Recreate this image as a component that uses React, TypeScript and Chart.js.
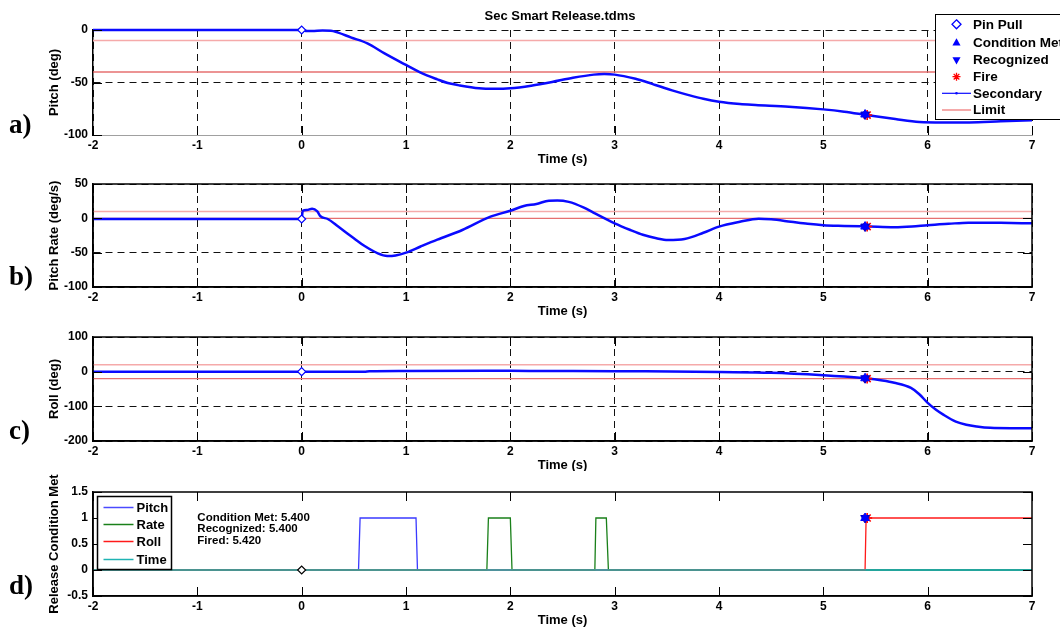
import React, { useEffect, useRef } from "react";
import { Chart, registerables } from "chart.js";
Chart.register(...registerables);

// ---------------- data ----------------
const timeMin = -2;
const timeMax = 7;

const pitchTime = [-2, -0.01, 0, 0.05, 0.1, 0.2, 0.28, 0.35, 0.47, 0.63, 0.79, 1.0, 1.14, 1.3, 1.4, 1.5, 1.7, 1.85, 2.0, 2.2, 2.4, 2.6, 2.8, 2.9, 3.0, 3.2, 3.32, 3.39, 3.55, 3.71, 3.85, 4.0, 4.2, 4.35, 4.67, 5.0, 5.2, 5.42, 5.69, 5.92, 6.14, 6.4, 6.7, 7.0];
const pitchDeg = [0, 0, 0, -1, -1, -0.5, -0.6, -2.5, -7, -12.7, -22, -33.3, -40.6, -47, -50.5, -52.5, -55.5, -56, -55.5, -53, -49.5, -45.5, -42.5, -42, -42.5, -46.5, -50, -52.4, -57.5, -62, -65.5, -68.3, -70.5, -71.4, -73, -75.6, -77.8, -81, -84.8, -87.6, -88, -88, -87, -86];

const rateTime = [-2, -0.01, 0.0, 0.01, 0.05, 0.1, 0.15, 0.18, 0.25, 0.35, 0.5, 0.6, 0.73, 0.82, 0.9, 1.0, 1.14, 1.3, 1.54, 1.81, 2.0, 2.13, 2.25, 2.37, 2.45, 2.56, 2.7, 2.8, 3.0, 3.15, 3.27, 3.4, 3.51, 3.67, 3.85, 4.0, 4.2, 4.38, 4.5, 4.69, 4.85, 5.0, 5.2, 5.44, 5.68, 5.85, 6.0, 6.2, 6.39, 6.7, 7.0];
const rateDegS = [-1, -1, -1, 11, 12, 14, 10, 3, -1, -12, -29, -40, -51, -54.8, -54, -50, -41, -31, -17, 2.4, 11, 18, 21, 25.7, 26, 24, 16, 8, -7.3, -17, -24, -29, -31.6, -30, -21, -12, -5, -0.5, -1.5, -5, -8, -10, -11, -12, -13, -12, -10, -8, -6.3, -6.5, -7.3];

const rollTime = [-2, 0, 0.6, 0.65, 1.0, 2.0, 2.3, 3.0, 3.3, 4.0, 4.5, 5.0, 5.2, 5.42, 5.55, 5.68, 5.84, 5.92, 6.0, 6.08, 6.15, 6.27, 6.37, 6.47, 6.6, 6.8, 7.0];
const rollDeg = [0, 0, 0, 1, 2, 2.5, 2, 1.5, 1, -1, -3, -10, -14, -20, -25, -32, -47, -65, -90, -110, -124, -144, -153, -158, -162, -163, -163];

const condPitchTime = [-2, 0.545, 0.56, 1.096, 1.11, 7];
const condPitchVal = [0, 0, 1, 1, 0, 0];
const condRateTime = [-2, 1.775, 1.79, 2.0, 2.016, 2.81, 2.82, 2.92, 2.94, 7];
const condRateVal = [0, 0, 1, 1, 0, 0, 1, 1, 0, 0];
const condRollTime = [-2, 5.4, 5.41, 7];
const condRollVal = [0, 0, 1, 1];
const condTimeTime = [-2, 7];
const condTimeVal = [0, 0];

const pitchLimits = [-10, -40];
const rateLimits = [10, 0];
const rollLimits = [20, -20];

// event times: pin pull, condition met, recognized, fire
const eventTimes = [0, 5.4, 5.4, 5.42];
const pitchEventVals = [0, -80.5, -80.5, -81];
const rateEventVals = [-1, -12, -12, -12];
const rollEventVals = [0, -19, -19, -20];
const condEventVals = [0, 1, 1, 1];

const annotationLines = ["Condition Met: 5.400", "Recognized: 5.400", "Fired: 5.420"];
const mainTitle = "Sec Smart Release.tdms";

// ---------------- styling ----------------
const SANS = '"Liberation Sans", Arial, Helvetica, sans-serif';
const SERIF = '"Liberation Serif", "Times New Roman", serif';
const BLUE = "#0a0aff";
const PINK = "rgb(245,170,170)";
const LIMRED = "rgb(230,112,112)";
const AREA_LEFT = 93;
const AREA_RIGHT = 1032;
const W = 1060;

const pts = (t: number[], v: number[]) => t.map((x, i) => ({ x, y: v[i] }));

type Spec = {
  top: number;
  height: number;
  areaTop: number;
  areaBottom: number;
  yMin: number;
  yMax: number;
  yStep: number;
  yTitle: string;
  letter: string;
  grid: boolean;
  fullBox: boolean;
  datasets: any[];
  extra?: (ctx: CanvasRenderingContext2D, chart: any, spec: Spec) => void;
};

function markerSets(vals: number[], pinColor: string) {
  return [
    { data: [{ x: eventTimes[0], y: vals[0] }], pointStyle: "rectRot", pointRadius: 4, borderColor: pinColor, backgroundColor: "#fff", borderWidth: 1.2, order: 0, clip: false },
    { data: [{ x: eventTimes[1], y: vals[1] }], pointStyle: "triangle", pointRadius: 5, borderColor: "#0000ff", backgroundColor: "#0000ff", borderWidth: 1, order: 0, clip: false },
    { data: [{ x: eventTimes[2], y: vals[2] }], pointStyle: "triangle", rotation: 180, pointRadius: 5, borderColor: "#0000cc", backgroundColor: "#0000cc", borderWidth: 1, order: 0, clip: false },
    { data: [{ x: eventTimes[3], y: vals[3] }], pointStyle: "star", pointRadius: 5, borderColor: "#ff0000", backgroundColor: "#ff0000", borderWidth: 1.6, order: 0, clip: false },
  ];
}

function lineSet(data: any[], color: string, width: number, order: number, smooth = false) {
  const ds: any = { data, showLine: true, pointRadius: 0, borderColor: color, backgroundColor: color, borderWidth: width, order, clip: false };
  if (smooth) ds.cubicInterpolationMode = "monotone";
  return ds;
}

function limitSets(lims: number[]) {
  return [
    lineSet([{ x: timeMin, y: lims[0] }, { x: timeMax, y: lims[0] }], PINK, 1.5, 3),
    lineSet([{ x: timeMin, y: lims[1] }, { x: timeMax, y: lims[1] }], LIMRED, 1.3, 3),
  ];
}

function drawSym(ctx: CanvasRenderingContext2D, kind: string, x: number, y: number, r: number, color: string) {
  ctx.save();
  ctx.strokeStyle = color;
  ctx.fillStyle = color;
  ctx.lineWidth = 1.3;
  ctx.beginPath();
  if (kind === "diamond") {
    ctx.moveTo(x, y - r); ctx.lineTo(x + r, y); ctx.lineTo(x, y + r); ctx.lineTo(x - r, y); ctx.closePath();
    ctx.fillStyle = "#fff"; ctx.fill(); ctx.stroke();
  } else if (kind === "up") {
    ctx.moveTo(x, y - r); ctx.lineTo(x + r * 0.9, y + r * 0.6); ctx.lineTo(x - r * 0.9, y + r * 0.6); ctx.closePath(); ctx.fill();
  } else if (kind === "down") {
    ctx.moveTo(x, y + r); ctx.lineTo(x + r * 0.9, y - r * 0.6); ctx.lineTo(x - r * 0.9, y - r * 0.6); ctx.closePath(); ctx.fill();
  } else if (kind === "star") {
    for (let k = 0; k < 4; k++) {
      const a = (k * Math.PI) / 4;
      ctx.moveTo(x - r * Math.cos(a), y - r * Math.sin(a));
      ctx.lineTo(x + r * Math.cos(a), y + r * Math.sin(a));
    }
    ctx.stroke();
  }
  ctx.restore();
}

const decor = (spec: Spec) => ({
  id: "decor",
  afterDraw(chart: any) {
    const ctx: CanvasRenderingContext2D = chart.ctx;
    const a = chart.chartArea;
    const xs = chart.scales.x;
    const ys = chart.scales.y;
    ctx.save();
    ctx.strokeStyle = "#000";
    if (spec.fullBox) {
      ctx.lineWidth = 1.5;
      ctx.strokeRect(a.left, a.top, a.right - a.left, a.bottom - a.top);
    }
    // inward ticks
    ctx.lineWidth = 1;
    ctx.beginPath();
    for (const t of xs.ticks) {
      const px = Math.round(xs.getPixelForValue(t.value)) + 0.5;
      ctx.moveTo(px, a.bottom); ctx.lineTo(px, a.bottom - 9);
      if (spec.fullBox) { ctx.moveTo(px, a.top); ctx.lineTo(px, a.top + 9); }
    }
    for (const t of ys.ticks) {
      const py = Math.round(ys.getPixelForValue(t.value)) + 0.5;
      ctx.moveTo(a.left, py); ctx.lineTo(a.left + 9, py);
      if (spec.fullBox) { ctx.moveTo(a.right, py); ctx.lineTo(a.right - 9, py); }
    }
    ctx.stroke();
    // axis titles
    ctx.fillStyle = "#000";
    ctx.font = `bold 13px ${SANS}`;
    ctx.textAlign = "center";
    ctx.textBaseline = "middle";
    ctx.fillText("Time (s)", (a.left + a.right) / 2, a.bottom + 24.5);
    ctx.save();
    ctx.translate(54, (a.top + a.bottom) / 2);
    ctx.rotate(-Math.PI / 2);
    ctx.fillText(spec.yTitle, 0, 0);
    ctx.restore();
    // panel letter
    ctx.font = `bold 27px ${SERIF}`;
    ctx.textAlign = "left";
    ctx.textBaseline = "alphabetic";
    ctx.fillText(spec.letter, 9, a.bottom - 2);
    if (spec.extra) spec.extra(ctx, chart, spec);
    ctx.restore();
  },
});

function buildConfig(spec: Spec): any {
  const tickFont = { family: SANS, size: 12, weight: "bold" as const };
  const areaTopInCanvas = spec.areaTop - spec.top;
  const xHeight = spec.height - (spec.areaBottom - spec.top);
  return {
    type: "scatter",
    data: { datasets: spec.datasets },
    options: {
      responsive: false,
      animation: false,
      devicePixelRatio: 1,
      events: [],
      layout: { padding: { top: areaTopInCanvas, right: W - AREA_RIGHT, left: 0, bottom: 0 } },
      plugins: { legend: { display: false }, tooltip: { enabled: false }, title: { display: false } },
      scales: {
        x: {
          type: "linear",
          min: timeMin,
          max: timeMax,
          ticks: { stepSize: 1, color: "#000", font: tickFont, padding: 3, maxRotation: 0 },
          grid: { display: true, drawOnChartArea: spec.grid, drawTicks: false, color: "#111", lineWidth: 1 },
          border: { display: true, color: spec.fullBox ? "#000" : "#a0a0a0", width: spec.fullBox ? 1.5 : 1, dash: [7, 5] },
          afterFit: (s: any) => { s.height = xHeight; s.paddingLeft = 0; s.paddingRight = 0; },
        },
        y: {
          type: "linear",
          min: spec.yMin,
          max: spec.yMax,
          ticks: { stepSize: spec.yStep, color: "#000", font: tickFont, padding: 5, callback: (v: any) => String(Number(v)) },
          grid: { display: true, drawOnChartArea: spec.grid, drawTicks: false, color: "#111", lineWidth: 1 },
          border: { display: true, color: "#000", width: 1.5, dash: [7, 5] },
          afterFit: (s: any) => { s.width = AREA_LEFT; s.paddingTop = 0; s.paddingBottom = 0; },
        },
      },
    },
    plugins: [decor(spec)],
  };
}

const legendA = (ctx: CanvasRenderingContext2D) => {
  const lx = 935.5, ly = 14.5, lw = 140, lh = 105;
  ctx.fillStyle = "#fff";
  ctx.fillRect(lx, ly, lw, lh);
  ctx.strokeStyle = "#000";
  ctx.lineWidth = 1;
  ctx.strokeRect(lx, ly, lw, lh);
  const rows: [string, number, string][] = [
    ["Pin Pull", 24.3, "diamond"],
    ["Condition Met", 42.7, "up"],
    ["Recognized", 60, "down"],
    ["Fire", 76.7, "star"],
    ["Secondary", 93.3, "line"],
    ["Limit", 110, "limit"],
  ];
  ctx.font = `bold 13.5px ${SANS}`;
  ctx.textAlign = "left";
  ctx.textBaseline = "middle";
  for (const [label, y, kind] of rows) {
    if (kind === "line" || kind === "limit") {
      ctx.strokeStyle = kind === "line" ? BLUE : PINK;
      ctx.lineWidth = kind === "line" ? 1.2 : 2;
      ctx.beginPath(); ctx.moveTo(942, y); ctx.lineTo(971, y); ctx.stroke();
      if (kind === "line") { ctx.fillStyle = BLUE; ctx.beginPath(); ctx.arc(956.5, y, 1.3, 0, Math.PI * 2); ctx.fill(); }
    } else {
      drawSym(ctx, kind, 956.5, y, kind === "star" ? 4 : 4.5, kind === "star" ? "#ff0000" : "#0000ff");
    }
    ctx.fillStyle = "#000";
    ctx.fillText(label, 973, y + 0.5);
  }
  // main title
  ctx.font = `bold 13px ${SANS}`;
  ctx.textAlign = "center";
  ctx.fillText(mainTitle, 560, 16);
};

const extraD = (ctx: CanvasRenderingContext2D, chart: any) => {
  const a = chart.chartArea;
  const xs = chart.scales.x;
  const ys = chart.scales.y;
  // annotation
  ctx.fillStyle = "#000";
  ctx.font = `bold 11.5px ${SANS}`;
  ctx.textAlign = "left";
  ctx.textBaseline = "middle";
  const ax = xs.getPixelForValue(-1.0);
  const ay = ys.getPixelForValue(1.0);
  annotationLines.forEach((s, i) => ctx.fillText(s, ax, ay + i * 11.3));
  // legend
  const lx = a.left + 4.5, ly = a.top + 4.5, lw = 74, lh = 73;
  ctx.fillStyle = "#fff";
  ctx.fillRect(lx, ly, lw, lh);
  ctx.strokeStyle = "#000";
  ctx.lineWidth = 1.5;
  ctx.strokeRect(lx, ly, lw, lh);
  const rows: [string, string, number][] = [
    ["Pitch", "#4a4aff", 11],
    ["Rate", "#1a801a", 28],
    ["Roll", "#ff1a1a", 45],
    ["Time", "#20b4b4", 63],
  ];
  ctx.font = `bold 13px ${SANS}`;
  for (const [label, color, dy] of rows) {
    ctx.strokeStyle = color;
    ctx.lineWidth = 1.5;
    ctx.beginPath(); ctx.moveTo(lx + 6, ly + dy); ctx.lineTo(lx + 36, ly + dy); ctx.stroke();
    ctx.fillStyle = "#000";
    ctx.fillText(label, lx + 39, ly + dy + 0.5);
  }
};

const specs: Spec[] = [
  {
    top: 0, height: 168, areaTop: 30, areaBottom: 135,
    yMin: -100, yMax: 0, yStep: 50, yTitle: "Pitch (deg)", letter: "a)", grid: true, fullBox: false,
    datasets: [...markerSets(pitchEventVals, "#0000ff"), lineSet(pts(pitchTime, pitchDeg), BLUE, 2.5, 1, true), ...limitSets(pitchLimits)],
    extra: (ctx) => legendA(ctx),
  },
  {
    top: 168, height: 155, areaTop: 184, areaBottom: 287,
    yMin: -100, yMax: 50, yStep: 50, yTitle: "Pitch Rate (deg/s)", letter: "b)", grid: true, fullBox: true,
    datasets: [...markerSets(rateEventVals, "#0000ff"), lineSet(pts(rateTime, rateDegS), BLUE, 2.5, 1, true), ...limitSets(rateLimits)],
  },
  {
    top: 323, height: 148, areaTop: 337, areaBottom: 441,
    yMin: -200, yMax: 100, yStep: 100, yTitle: "Roll (deg)", letter: "c)", grid: true, fullBox: true,
    datasets: [...markerSets(rollEventVals, "#0000ff"), lineSet(pts(rollTime, rollDeg), BLUE, 2.5, 1, true), ...limitSets(rollLimits)],
  },
  {
    top: 471, height: 156, areaTop: 492, areaBottom: 596,
    yMin: -0.5, yMax: 1.5, yStep: 0.5, yTitle: "Release Condition Met", letter: "d)", grid: false, fullBox: true,
    datasets: [
      ...markerSets(condEventVals, "#000000"),
      lineSet(pts(condTimeTime, condTimeVal), "#20b4b4", 1.3, 1),
      lineSet(pts(condRollTime, condRollVal), "#ff1a1a", 1.3, 2),
      lineSet(pts(condRateTime, condRateVal), "#1a801a", 1.3, 3),
      lineSet(pts(condPitchTime, condPitchVal), "#3a3aff", 1.3, 4),
    ],
    extra: extraD,
  },
];

function Panel({ spec }: { spec: Spec }) {
  const ref = useRef<HTMLCanvasElement>(null);
  useEffect(() => {
    if (!ref.current) return;
    const chart = new Chart(ref.current, buildConfig(spec));
    return () => chart.destroy();
  }, [spec]);
  return (
    <canvas
      ref={ref}
      width={W}
      height={spec.height}
      style={{ position: "absolute", left: 0, top: spec.top, width: W, height: spec.height, display: "block" }}
    />
  );
}

export default function App() {
  return (
    <div style={{ position: "absolute", left: 0, top: 0, width: W, height: 627, background: "#fff", overflow: "hidden" }}>
      {specs.map((s, i) => (
        <Panel key={i} spec={s} />
      ))}
    </div>
  );
}
